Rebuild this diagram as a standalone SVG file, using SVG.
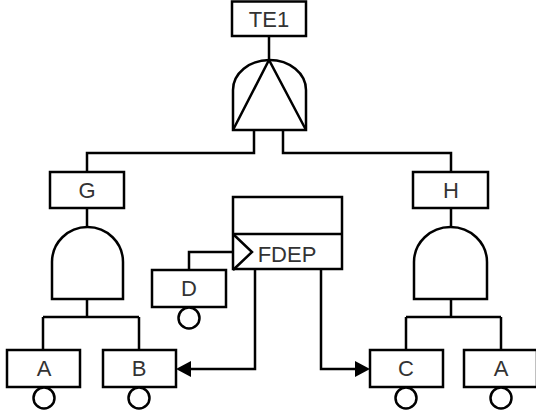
<svg xmlns="http://www.w3.org/2000/svg" width="536" height="417" viewBox="0 0 536 417">
<style>
.s{fill:none;stroke:#000;stroke-width:2.5;stroke-linejoin:miter}
.b{fill:#fff;stroke:#000;stroke-width:2.5}
.t{font-family:"Liberation Sans",Arial,sans-serif;font-size:22px;fill:#333;text-anchor:middle}
</style>
<g id="connectors" class="s">
<path d="M269,36 V60"/>
<path d="M254,130 V153 H87 V172"/>
<path d="M283,130 V153 H451 V172"/>
<path d="M87,208 V227"/>
<path d="M451,208 V227"/>
<path d="M87,299 V317 M43,317 H139 M43,317 V350 M139,317 V350"/>
<path d="M451,299 V317 M406,317 H501 M406,317 V350 M501,317 V350"/>
<path d="M189,270 V252 H233"/>
<path d="M255,269 V369 H190"/>
<path d="M321,269 V369 H356"/>
</g>
<g id="arrowheads">
<path d="M176,369 L191,361 L191,377 z" fill="#000"/>
<path d="M370,369 L355,361 L355,377 z" fill="#000"/>
</g>
<g id="TE1">
<rect class="b" x="232" y="1.5" width="74" height="34.5"/>
<text class="t" x="269" y="27">TE1</text>
</g>
<g id="TE1-gate" class="s">
<path d="M233,130 V90 A36.5,30 0 0 1 306,90 V130 Z"/>
<path d="M233,130 L269,60 L306,130"/>
</g>
<g id="G">
<rect class="b" x="50" y="172" width="74" height="36"/>
<text class="t" x="87" y="198">G</text>
</g>
<g id="G-gate">
<path class="s" d="M52,299 V262 A35.5,35 0 0 1 123,262 V299 Z"/>
</g>
<g id="H">
<rect class="b" x="413" y="172" width="75" height="36"/>
<text class="t" x="451" y="198">H</text>
</g>
<g id="H-gate">
<path class="s" d="M414,299 V262 A36.5,35 0 0 1 487,262 V299 Z"/>
</g>
<g id="FDEP">
<rect class="b" x="233" y="197" width="109" height="72"/>
<path class="s" d="M233,234 H342"/>
<path class="s" d="M233,234 L252,252 L233,270"/>
<text class="t" x="287" y="262">FDEP</text>
</g>
<g id="D">
<rect class="b" x="152" y="270" width="74" height="37"/>
<text class="t" x="189" y="296">D</text>
<circle class="b" cx="189" cy="318" r="10.5"/>
</g>
<g id="A1">
<rect class="b" x="7" y="350" width="73" height="37"/>
<text class="t" x="44" y="376">A</text>
<circle class="b" cx="44" cy="398" r="10.5"/>
</g>
<g id="B">
<rect class="b" x="103" y="350" width="73" height="37"/>
<text class="t" x="139" y="376">B</text>
<circle class="b" cx="139" cy="398" r="10.5"/>
</g>
<g id="C">
<rect class="b" x="370" y="350" width="73" height="37"/>
<text class="t" x="406" y="376">C</text>
<circle class="b" cx="406" cy="398" r="10.5"/>
</g>
<g id="A2">
<rect class="b" x="464" y="350" width="73" height="37"/>
<text class="t" x="501" y="376">A</text>
<circle class="b" cx="501" cy="398" r="10.5"/>
</g>
</svg>
